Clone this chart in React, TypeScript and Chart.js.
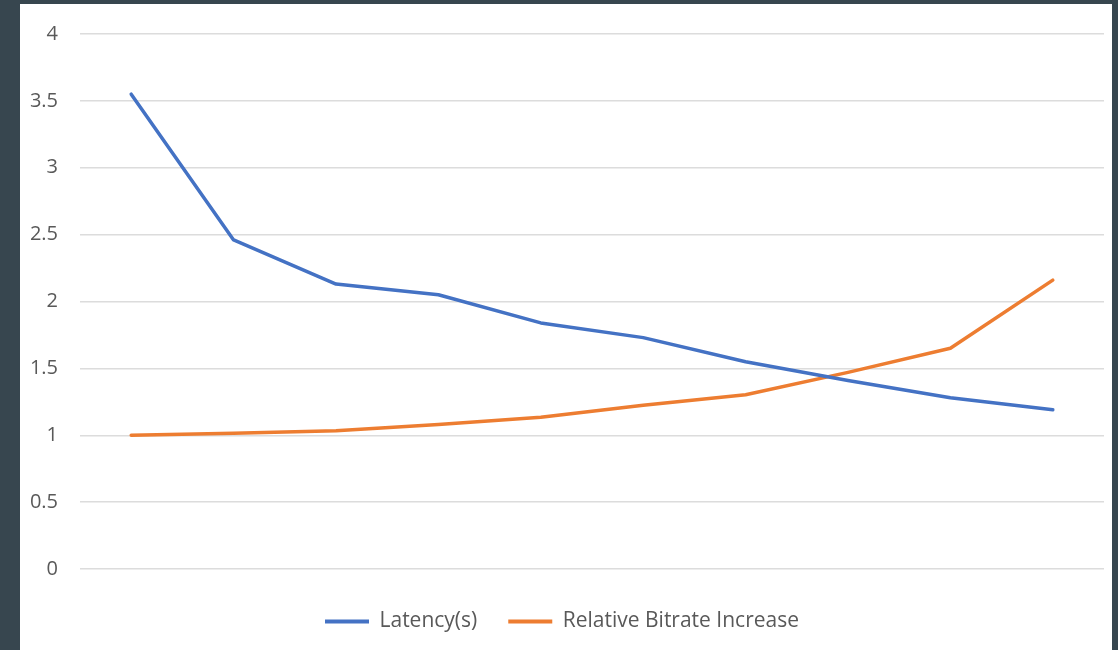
import React, { useEffect, useRef } from "react";
import { Chart, registerables } from "chart.js";

Chart.register(...registerables);

const categories = ["1", "2", "3", "4", "5", "6", "7", "8", "9", "10"];
const latency = [3.55, 2.46, 2.13, 2.05, 1.84, 1.73, 1.55, 1.41, 1.28, 1.19];
const bitrate = [1.0, 1.015, 1.033, 1.08, 1.135, 1.225, 1.303, 1.47, 1.65, 2.16];
const seriesNames = ["Latency(s)", "Relative Bitrate Increase"];
const seriesColors = ["#4472C4", "#ED7D31"];
const yMin = 0;
const yMax = 4;
const yStep = 0.5;

const FONT = "'Open Sans', 'Liberation Sans', sans-serif";

export default function App() {
  const ref = useRef<HTMLCanvasElement | null>(null);

  useEffect(() => {
    if (!ref.current) return;
    const chart = new Chart(ref.current, {
      type: "line",
      data: {
        labels: categories,
        datasets: [latency, bitrate].map((d, i) => ({
          label: seriesNames[i],
          data: d,
          borderColor: seriesColors[i],
          backgroundColor: seriesColors[i],
          borderWidth: 3.5,
          pointRadius: 0,
          pointHoverRadius: 0,
          tension: 0,
          borderCapStyle: "round" as const,
          borderJoinStyle: "round" as const,
          fill: false,
        })),
      },
      options: {
        animation: false,
        responsive: false,
        maintainAspectRatio: false,
        layout: { padding: { left: 0, right: 8, top: 30, bottom: 8 } },
        plugins: {
          tooltip: { enabled: false },
          legend: {
            position: "bottom",
            labels: {
              boxWidth: 44,
              boxHeight: 4,
              padding: 31,
              color: "#595959",
              font: { family: FONT, size: 21 },
              generateLabels: (c: any) =>
                c.data.datasets.map((ds: any, i: number) => ({
                  text: ds.label,
                  fillStyle: ds.borderColor,
                  strokeStyle: ds.borderColor,
                  lineWidth: 0,
                  fontColor: "#595959",
                  hidden: false,
                  datasetIndex: i,
                })),
            },
          },
        },
        scales: {
          x: {
            type: "category",
            offset: true,
            grid: { display: false, drawTicks: false },
            border: { display: false },
            ticks: { display: false },
            afterFit: (s: any) => {
              s.height = 11;
            },
          },
          y: {
            min: yMin,
            max: yMax,
            ticks: {
              stepSize: yStep,
              color: "#595959",
              padding: 22,
              font: { family: FONT, size: 20, lineHeight: 0.8 },
              callback: (v: any) => String(Number(v)),
            },
            grid: { color: "#dcdcdc", lineWidth: 1.4, drawTicks: false },
            border: { display: false },
            afterFit: (s: any) => {
              s.width = 60;
            },
          },
        },
      },
    });
    return () => chart.destroy();
  }, []);

  return (
    <div
      style={{
        position: "fixed",
        left: 0,
        top: 0,
        width: 1118,
        height: 650,
        background: "#37464f",
      }}
    >
      <div
        style={{
          position: "absolute",
          left: 20,
          top: 4,
          width: 1092,
          height: 646,
          background: "#ffffff",
        }}
      >
        <canvas ref={ref} width={1092} height={646} style={{ display: "block" }} />
      </div>
    </div>
  );
}
